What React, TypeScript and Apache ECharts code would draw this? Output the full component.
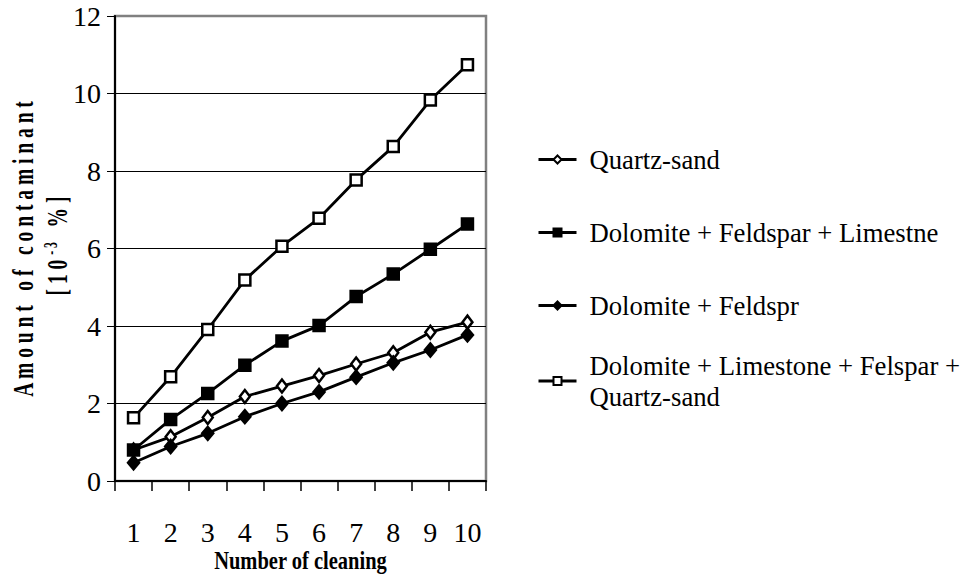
import React, { useEffect, useRef } from "react";
import * as echarts from "echarts";

const categories = ["1", "2", "3", "4", "5", "6", "7", "8", "9", "10"];
const seriesNames = [
  "Quartz-sand",
  "Dolomite + Feldspar + Limestne",
  "Dolomite + Feldspr",
  "Dolomite + Limestone + Felspar + Quartz-sand",
];
const quartzSand = [0.8, 1.14, 1.64, 2.18, 2.45, 2.72, 3.02, 3.31, 3.84, 4.1];
const dolFeldLime = [0.8, 1.59, 2.26, 2.99, 3.61, 4.01, 4.76, 5.34, 5.98, 6.63];
const dolFeld = [0.47, 0.89, 1.23, 1.66, 2.0, 2.3, 2.68, 3.05, 3.38, 3.77];
const dolLimeFelQuartz = [1.63, 2.69, 3.91, 5.19, 6.06, 6.78, 7.77, 8.63, 9.83, 10.74];
const yTicks = { min: 0, max: 12, interval: 2 };
const yTitle1 = "Amount of contaminant";
const xTitle = "Number of cleaning";

const FONT = "Liberation Serif, Times New Roman, Times, serif";

const spaced = (s: string) =>
  s
    .split(" ")
    .map((w) => w.split("").join(" "))
    .join("   ");

export default function App() {
  const ref = useRef<HTMLDivElement>(null);
  useEffect(() => {
    if (!ref.current) return;
    const chart = echarts.init(ref.current, undefined, { renderer: "svg" });

    const markers = [
      { symbol: "diamond", size: [10, 13], fill: "#fff" },
      { symbol: "rect", size: [11, 11], fill: "#000" },
      { symbol: "diamond", size: [11, 13], fill: "#000" },
      { symbol: "rect", size: [11, 11], fill: "#fff" },
    ];
    const values = [quartzSand, dolFeldLime, dolFeld, dolLimeFelQuartz];
    const legendTops = [139, 212, 285, 345];

    const option: any = {
      animation: false,
      backgroundColor: "#fff",
      textStyle: { fontFamily: FONT, color: "#000" },
      grid: {
        left: 115,
        right: 480,
        top: 16,
        bottom: 94,
        show: true,
        borderColor: "#808080",
        borderWidth: 2.5,
        backgroundColor: "transparent",
      },
      xAxis: {
        type: "category",
        data: categories,
        boundaryGap: true,
        axisLine: { show: true, lineStyle: { color: "#000", width: 2 } },
        axisTick: { show: true, alignWithLabel: false, length: 10, lineStyle: { color: "#000", width: 1.5 } },
        axisLabel: { color: "#000", fontSize: 28, fontFamily: FONT, margin: 37 },
        splitLine: { show: false },
      },
      yAxis: {
        type: "value",
        min: yTicks.min,
        max: yTicks.max,
        interval: yTicks.interval,
        axisLine: { show: true, lineStyle: { color: "#000", width: 2 } },
        axisTick: { show: true, length: 8, lineStyle: { color: "#000", width: 1 } },
        axisLabel: { color: "#000", fontSize: 28, fontFamily: FONT, margin: 14 },
        splitLine: { show: true, showMaxLine: false, lineStyle: { color: "#000", width: 1 } },
      },
      legend: seriesNames.map((name, i) => ({
        data: [name],
        orient: "vertical",
        left: 532,
        top: legendTops[i],
        itemWidth: 38,
        itemHeight: 10,
        selectedMode: false,
        lineStyle: { width: 3 },
        formatter: (n: string) => n.replace("Felspar + ", "Felspar +\n"),
        textStyle: {
          color: "#000",
          fontSize: 26.7,
          fontFamily: FONT,
          lineHeight: 31,
          padding: [0, 0, 0, 8],
        },
      })),
      series: seriesNames.map((name, i) => ({
        name,
        type: "line",
        data: values[i],
        symbol: markers[i].symbol,
        symbolSize: markers[i].size,
        showAllSymbol: true,
        lineStyle: { color: "#000", width: 2.8 },
        itemStyle: {
          color: markers[i].fill,
          borderColor: "#000",
          borderWidth: 2.5,
        },
        emphasis: { disabled: true },
      })),
      graphic: [
        {
          type: "text",
          x: 22.5,
          y: 249,
          rotation: Math.PI / 2,
          scaleX: 0.65,
          style: {
            text: spaced(yTitle1),
            fontSize: 30,
            fontWeight: "bold",
            fontFamily: FONT,
            fill: "#000",
            align: "center",
            verticalAlign: "middle",
          },
        },
        {
          type: "text",
          x: 56.5,
          y: 246,
          rotation: Math.PI / 2,
          scaleX: 0.65,
          style: {
            text: "{b|[ 1 0 }{s|- 3}{b|   % ]}",
            rich: {
              b: { fontSize: 30, fontWeight: "bold", fontFamily: FONT, fill: "#000", lineHeight: 30 },
              s: { fontSize: 18, fontWeight: "bold", fontFamily: FONT, fill: "#000", verticalAlign: "top", lineHeight: 30 },
            },
            fill: "#000",
            align: "center",
            verticalAlign: "middle",
          },
        },
        {
          type: "text",
          x: 300.5,
          y: 561,
          scaleX: 0.82,
          style: {
            text: xTitle,
            fontSize: 25,
            fontWeight: "bold",
            fontFamily: FONT,
            fill: "#000",
            align: "center",
            verticalAlign: "middle",
          },
        },
      ],
    };
    chart.setOption(option);
    return () => chart.dispose();
  }, []);
  return (
    <div
      ref={ref}
      style={{ position: "fixed", left: 0, top: 0, width: 966, height: 575, background: "#fff" }}
    />
  );
}
